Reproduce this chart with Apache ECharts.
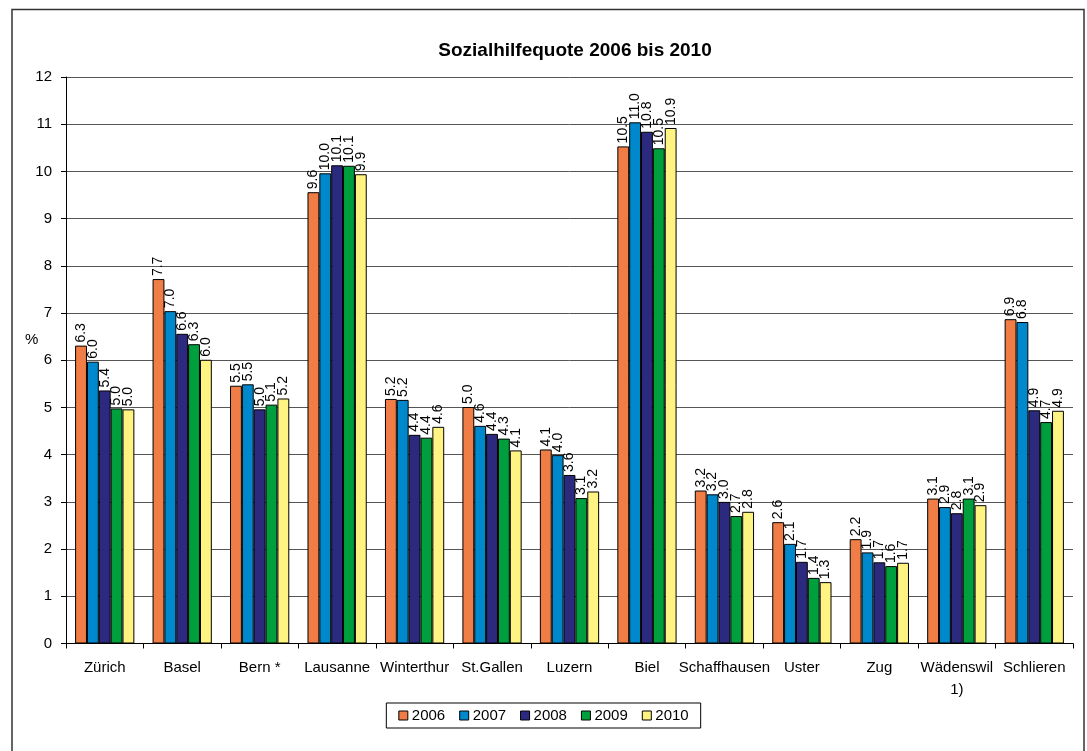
<!DOCTYPE html>
<html>
<head>
<meta charset="utf-8">
<script src="https://cdn.jsdelivr.net/npm/echarts@6/dist/echarts.min.js"></script>
<style>
html,body{margin:0;padding:0;background:#fff;}
#c{width:1087px;height:751px;}
</style>
</head>
<body>
<div id="c"></div>
<script>
var categories = ['Zürich','Basel','Bern *','Lausanne','Winterthur','St.Gallen','Luzern','Biel','Schaffhausen','Uster','Zug','Wädenswil\n1)','Schlieren'];
var years = ['2006','2007','2008','2009','2010'];
var v2006 = [6.31, 7.72, 5.46, 9.56, 5.18, 5.01, 4.11, 10.53, 3.24, 2.57, 2.21, 3.07, 6.87];
var v2007 = [5.97, 7.04, 5.49, 9.96, 5.16, 4.61, 3.99, 11.04, 3.16, 2.11, 1.93, 2.89, 6.81];
var v2008 = [5.36, 6.56, 4.96, 10.13, 4.42, 4.44, 3.57, 10.84, 3.00, 1.73, 1.72, 2.76, 4.94];
var v2009 = [4.98, 6.34, 5.06, 10.12, 4.36, 4.34, 3.08, 10.49, 2.70, 1.39, 1.64, 3.07, 4.69];
var v2010 = [4.96, 6.01, 5.19, 9.94, 4.59, 4.09, 3.22, 10.92, 2.79, 1.30, 1.71, 2.93, 4.93];
var yTicks = {min: 0, max: 12, interval: 1};
var colors = ['#EF7D45', '#0088CC', '#2C2A7F', '#009F3D', '#FFF382'];

var seriesData = [v2006, v2007, v2008, v2009, v2010];
var font = 'Arial, "Liberation Sans", sans-serif';

var chart = echarts.init(document.getElementById('c'), null, {renderer: 'canvas'});
var series = years.map(function (y, i) {
  return {
    name: y,
    type: 'bar',
    data: seriesData[i],
    barGap: '0%',
    barCategoryGap: '23.5%',
    itemStyle: {color: colors[i], borderColor: '#000', borderWidth: 1},
    label: {
      show: true,
      position: 'top',
      rotate: 90,
      align: 'left',
      verticalAlign: 'middle',
      distance: 3,
      fontFamily: font,
      fontSize: 14,
      color: '#000',
      formatter: function (p) { return p.value.toFixed(1); }
    }
  };
});

chart.setOption({
  animation: false,
  backgroundColor: '#fff',
  color: colors,
  title: {
    text: 'Sozialhilfequote 2006 bis 2010',
    left: 570,
    textAlign: 'center',
    top: 36,
    textStyle: {fontFamily: font, fontSize: 19, fontWeight: 'bold', color: '#000'}
  },
  grid: {left: 66, right: 14, top: 77, height: 566.5, containLabel: false},
  legend: {
    data: years,
    left: 'center',
    top: 703,
    icon: 'rect',
    itemWidth: 9,
    itemHeight: 9,
    itemGap: 14,
    padding: [5, 12, 5, 12],
    borderColor: '#000',
    borderWidth: 1,
    textStyle: {fontFamily: font, fontSize: 15, color: '#000', padding: [0, 0, 0, -1]},
    itemStyle: {borderColor: '#000', borderWidth: 1}
  },
  xAxis: {
    type: 'category',
    data: categories,
    axisLine: {lineStyle: {color: '#000', width: 1}},
    axisTick: {show: true, length: 5, inside: false, lineStyle: {color: '#000'}},
    axisLabel: {fontFamily: font, fontSize: 15, color: '#000', margin: 13, interval: 0, lineHeight: 22}
  },
  yAxis: {
    type: 'value',
    min: yTicks.min,
    max: yTicks.max,
    interval: yTicks.interval,
    axisLine: {show: true, lineStyle: {color: '#000', width: 1}},
    axisTick: {show: true, length: 5, inside: false, lineStyle: {color: '#000'}},
    axisLabel: {fontFamily: font, fontSize: 15, color: '#000', margin: 14},
    splitLine: {show: true, lineStyle: {color: '#555', width: 1}}
  },
  graphic: [
    {
      type: 'rect',
      shape: {x: 12, y: 9.5, width: 1072, height: 760},
      style: {fill: 'none', stroke: '#333', lineWidth: 1.5},
      silent: true,
      z: -1
    },
    {
      type: 'text',
      left: 25,
      top: 332,
      style: {text: '%', fontFamily: font, fontSize: 15, fill: '#000'}
    }
  ],
  series: series
});
</script>
</body>
</html>
